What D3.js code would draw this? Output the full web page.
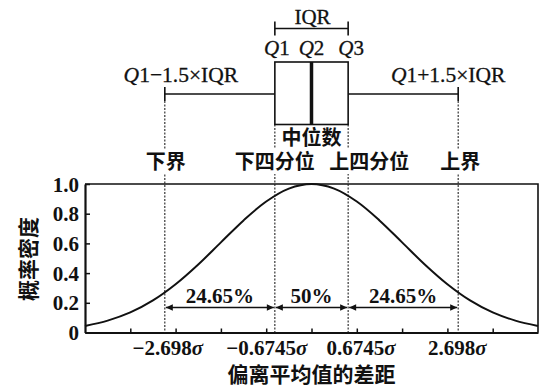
<!DOCTYPE html>
<html><head><meta charset="utf-8">
<script src="https://cdn.jsdelivr.net/npm/d3@7"></script>
<style>body{margin:0;background:#fff}svg{display:block}</style>
</head><body>
<svg id="c" width="540" height="389"></svg>
<script>
// ---- data ----
const xDomain = [-5, 5];
const yDomain = [0, 1];
const yTicks = [0, 0.2, 0.4, 0.6, 0.8, 1.0];
const yTickLabels = ["0", "0.2", "0.4", "0.6", "0.8", "1.0"];
const xTicks = [-4, -3, -2, -1, 0, 1, 2, 3, 4];
const curveX = [-5, -4.5, -4, -3.5, -3, -2.5, -2, -1.5, -1, -0.5, 0, 0.5, 1, 1.5, 2, 2.5, 3, 3.5, 4, 4.5, 5];
const curveY = [0.044, 0.080, 0.135, 0.216, 0.325, 0.458, 0.607, 0.755, 0.882, 0.969, 1.0, 0.969, 0.882, 0.755, 0.607, 0.458, 0.325, 0.216, 0.135, 0.080, 0.044];
const boundaryX = [-3.238, -0.809, 0.809, 3.238];
const boundaryNum = ["−2.698", "−0.6745", "0.6745", "2.698"];
const boundaryNames = ["下界", "下四分位", "上四分位", "上界"];
const intervalLabels = ["24.65%", "50%", "24.65%"];
const medianX = 0;
const quartLabels = ["1", "2", "3"];
const whiskerLabels = ["1−1.5×IQR", "1+1.5×IQR"];
const xTitle = "偏离平均值的差距";
const yTitle = "概率密度";

// ---- layout ----
const svg = d3.select("#c");
const L = 85, R = 538, T = 184, B = 332.5;
const x = d3.scaleLinear().domain(xDomain).range([L, R]);
const y = d3.scaleLinear().domain(yDomain).range([B, T]);
const ink = "#111";
const serif = "'Liberation Serif','Times New Roman',serif";
const cjk = "'Noto Sans CJK SC','Noto Sans',sans-serif";

// frame
svg.append("path").attr("d", `M${L},${T}H${R}V${B}`).attr("fill", "none").attr("stroke", ink).attr("stroke-width", 1.6);

// axes
const gy = svg.append("g").attr("transform", `translate(${L},0)`)
  .call(d3.axisLeft(y).tickValues(yTicks).tickSizeInner(-5).tickSizeOuter(0).tickPadding(6)
    .tickFormat((d, i) => yTickLabels[i]));
const gx = svg.append("g").attr("transform", `translate(0,${B})`)
  .call(d3.axisBottom(x).tickValues(xTicks).tickSizeInner(-4).tickSizeOuter(0).tickFormat(""));
[gy, gx].forEach(g => {
  g.select(".domain").attr("stroke", ink).attr("stroke-width", 2.2);
  g.selectAll(".tick line").attr("stroke", ink).attr("stroke-width", 1.5);
});
gy.selectAll(".tick text").attr("font-family", serif).attr("font-weight", "bold")
  .attr("font-size", 21).attr("fill", ink).attr("dy", "0.34em");

// dotted vertical lines
const topStart = [101, 124.5, 124.5, 101];
boundaryX.forEach((b, i) => {
  svg.append("line").attr("x1", x(b)).attr("x2", x(b)).attr("y1", topStart[i]).attr("y2", B)
    .attr("stroke", "#222").attr("stroke-width", 1.1).attr("stroke-dasharray", "2,1.5");
});

// curve
const pts = curveX.map((v, i) => [v, curveY[i]]);
svg.append("path").datum(pts)
  .attr("d", d3.line().x(d => x(d[0])).y(d => y(d[1])).curve(d3.curveCatmullRom))
  .attr("fill", "none").attr("stroke", ink).attr("stroke-width", 2);

// interval arrows
const ay = 307.5;
for (let i = 0; i < 3; i++) {
  const a = x(boundaryX[i]) + 1, b = x(boundaryX[i + 1]) - 1;
  svg.append("line").attr("x1", a).attr("x2", b).attr("y1", ay).attr("y2", ay).attr("stroke", ink).attr("stroke-width", 1.5);
  svg.append("path").attr("d", `M${a},${ay}l7,-3.2v6.4z M${b},${ay}l-7,-3.2v6.4z`).attr("fill", ink);
  svg.append("text").attr("x", (a + b) / 2).attr("y", 303).attr("text-anchor", "middle")
    .attr("font-family", serif).attr("font-weight", "bold").attr("font-size", 21).attr("fill", ink)
    .text(intervalLabels[i]);
}

// x boundary labels
const xlOff = [3, -8, 13, -1];
boundaryX.forEach((b, i) => {
  const t = svg.append("text").attr("x", x(b) + xlOff[i]).attr("y", 355).attr("text-anchor", "middle")
    .attr("font-family", serif).attr("font-weight", "bold").attr("font-size", 21).attr("fill", ink);
  t.append("tspan").text(boundaryNum[i]);
  t.append("tspan").attr("font-style", "italic").text("σ");
});

// titles
svg.append("text").attr("x", x(0)).attr("y", 382).attr("text-anchor", "middle")
  .attr("font-family", cjk).attr("font-weight", "bold").attr("font-size", 21).attr("fill", ink).text(xTitle);
svg.append("text").attr("transform", "translate(36,259) rotate(-90)").attr("text-anchor", "middle")
  .attr("font-family", cjk).attr("font-weight", "bold").attr("font-size", 21).attr("fill", ink).text(yTitle);

// boundary name labels (with white background)
const nameAnchor = ["middle", "middle", "start", "middle"];
const nameOff = [1, 0, -19, 2];
boundaryNames.forEach((n, i) => {
  const g = svg.append("g");
  const t = g.append("text").attr("x", x(boundaryX[i]) + nameOff[i]).attr("y", 169).attr("text-anchor", nameAnchor[i])
    .attr("font-family", cjk).attr("font-weight", "bold").attr("font-size", 20).attr("fill", ink).text(n);
  const bb = t.node().getBBox();
  g.insert("rect", "text").attr("x", bb.x).attr("y", bb.y + 3).attr("width", bb.width).attr("height", bb.height - 4).attr("fill", "#fff");
});
svg.append("text").attr("x", x(medianX)).attr("y", 145).attr("text-anchor", "middle")
  .attr("font-family", cjk).attr("font-weight", "bold").attr("font-size", 20).attr("fill", ink).text("中位数");

// box plot
const wy = 94, bt = 62, bb2 = 124.5;
svg.append("line").attr("x1", x(boundaryX[0])).attr("x2", x(boundaryX[1])).attr("y1", wy).attr("y2", wy).attr("stroke", ink).attr("stroke-width", 1.6);
svg.append("line").attr("x1", x(boundaryX[2])).attr("x2", x(boundaryX[3])).attr("y1", wy).attr("y2", wy).attr("stroke", ink).attr("stroke-width", 1.6);
[0, 3].forEach(i => svg.append("line").attr("x1", x(boundaryX[i])).attr("x2", x(boundaryX[i])).attr("y1", wy - 7).attr("y2", wy + 7).attr("stroke", ink).attr("stroke-width", 1.6));
svg.append("rect").attr("x", x(boundaryX[1])).attr("y", bt).attr("width", x(boundaryX[2]) - x(boundaryX[1])).attr("height", bb2 - bt)
  .attr("fill", "none").attr("stroke", ink).attr("stroke-width", 1.6);
svg.append("line").attr("x1", x(medianX)).attr("x2", x(medianX)).attr("y1", bt).attr("y2", bb2).attr("stroke", ink).attr("stroke-width", 3.5);

// IQR bracket
const iy = 28.5;
svg.append("path").attr("d", `M${x(boundaryX[1])},${iy - 7}V${iy + 7}M${x(boundaryX[1])},${iy}H${x(boundaryX[2])}M${x(boundaryX[2])},${iy - 7}V${iy + 7}`)
  .attr("fill", "none").attr("stroke", ink).attr("stroke-width", 1.6);
svg.append("text").attr("x", x(medianX) + 1).attr("y", 24).attr("text-anchor", "middle")
  .attr("font-family", serif).attr("font-size", 21).attr("fill", ink).attr("stroke", ink).attr("stroke-width", 0.3).text("IQR");

// Q labels
const qX = [boundaryX[1], medianX, boundaryX[2]];
const qOff = [2, 0, 3];
qX.forEach((q, i) => {
  const t = svg.append("text").attr("x", x(q) + qOff[i]).attr("y", 55).attr("text-anchor", "middle")
    .attr("font-family", serif).attr("font-size", 21).attr("fill", ink).attr("stroke", ink).attr("stroke-width", 0.3);
  t.append("tspan").attr("font-style", "italic").text("Q");
  t.append("tspan").text(quartLabels[i]);
});
// whisker labels
const wlX = [boundaryX[0], boundaryX[3]];
const wlOff = [16, -10];
wlX.forEach((w, i) => {
  const t = svg.append("text").attr("x", x(w) + wlOff[i]).attr("y", 82).attr("text-anchor", "middle")
    .attr("font-family", serif).attr("font-size", 21.5).attr("fill", ink).attr("stroke", ink).attr("stroke-width", 0.3);
  t.append("tspan").attr("font-style", "italic").text("Q");
  t.append("tspan").text(whiskerLabels[i]);
});
</script>
</body></html>
